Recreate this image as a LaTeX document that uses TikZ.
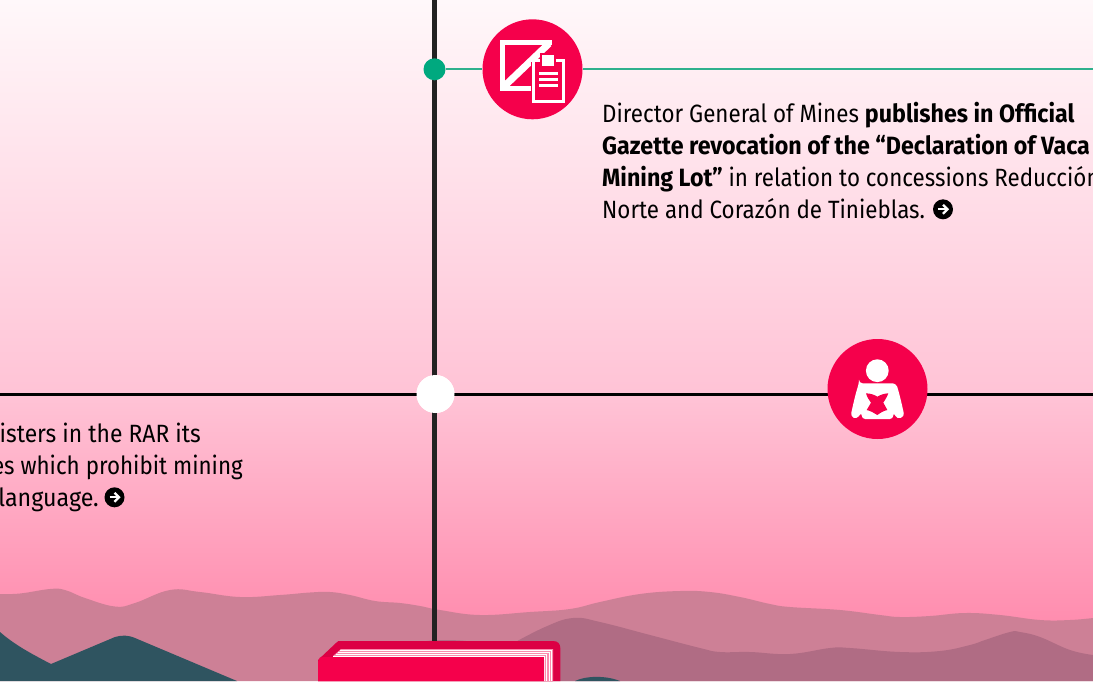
\documentclass[tikz,border=0pt]{standalone}
\usepackage{fontspec}
\setmainfont[FakeStretch=0.895]{Fira Sans}
\newfontfamily\boldtxt[FakeStretch=0.93]{Fira Sans Bold}
\newfontfamily\wideA[FakeStretch=0.915]{Fira Sans}
\newfontfamily\wideB[FakeStretch=0.93]{Fira Sans}
\definecolor{crim}{HTML}{F5004B}
\definecolor{crimd}{HTML}{DC0044}
\definecolor{grn}{HTML}{00A97F}
\definecolor{grnline}{HTML}{2FB08C}
\definecolor{hillA}{HTML}{CD8096}
\definecolor{hillB}{HTML}{B06C84}
\definecolor{hillC}{HTML}{2F5460}
\definecolor{skyA}{HTML}{FFF8FA}
\definecolor{skyB}{HTML}{FFC2D5}
\definecolor{skyC}{HTML}{FF8CAE}
\definecolor{inkline}{HTML}{222222}
\tikzset{
 iconround/.style={circle,fill=crim,minimum size=100pt,inner sep=0pt,draw=none},
 txt/.style={inner sep=0pt,font=\fontsize{25}{32}\selectfont,text=black},
 arrowdot/.pic={\fill[black] (0,0) circle (10);
  \draw[white,line width=2.3pt] (-5,0)--(3.5,0);
  \draw[white,line width=2.3pt] (0,-4.5)--(4.5,0)--(0,4.5);}
}
\begin{document}
\begin{tikzpicture}[x=1pt,y=-1pt]
\useasboundingbox (0,0) rectangle (1093,681);
\clip (0,0) rectangle (1093,681);
\shade[top color=skyA,bottom color=skyB] (0,0) rectangle (1093,400);
\shade[top color=skyB,bottom color=skyC] (0,400) rectangle (1093,625);
\fill[skyC] (0,625) rectangle (1093,681);
% hills
\fill[hillA] plot[smooth,tension=0.7] coordinates {(0,594)(20,593.5)(50,589)(65,590)(85,598)(115,606.5)(135,603)(170,590)(200,592)(240,597)(280,595)(310,592.5)(330,592)(350,595)(375,601)(400,603)(420,606)(440,610)(480,615)(530,612)(570,609)(600,602)(640,594)(680,591)(710,592)(740,597)(770,604)(790,607)(840,610)(880,615)(900,617)(930,616)(965,613)(1000,615)(1040,620)(1070,620)(1093,618)} -- (1093,681) -- (0,681) -- cycle;
\fill[hillB] plot[smooth,tension=0.7] coordinates {(510,645)(545,627)(573,618)(600,622)(650,635)(700,648)(720,652)(750,652)(790,654)(830,648)(850,648)(900,652)(940,651)(970,645)(985,640)(1010,632)(1020,632)(1040,637)(1070,650)(1093,655)} -- (1093,681) -- (510,681) -- cycle;
\fill[hillB] (415,643) .. controls (430,639) and (460,639) .. (480,643) -- cycle;
\fill[hillC] (0,632) .. controls (15,645) and (30,653) .. (51,664) -- (115,637) .. controls (122,635) and (128,635) .. (135,638) -- (237,681) -- (0,681) -- cycle;
\fill[hillC] (575,681) .. controls (585,676) and (605,675) .. (620,681) -- cycle;
% connectors
\coordinate (vtop) at (434.7,-5);
\coordinate (hleft) at (-5,394);
\coordinate (hright) at (1098,394);
\coordinate (gright) at (1098,69.3);
\node[circle,fill=white,minimum size=38pt,inner sep=0pt] (hub) at (435.5,394) {};
\coordinate (booktop) at (434.7,643);
\draw[inkline,line width=5pt] (vtop) -- (booktop);
\draw[black,line width=3pt] (hleft) -- (hright);
\node[iconround] (docicon) at (532.5,69.3) {};
\node[iconround] (readicon) at (877.5,389) {};
\node[circle,fill=white,minimum size=38pt,inner sep=0pt] (hub2) at (hub) {};
\node[circle,fill=grn,minimum size=22pt,inner sep=0pt] (gdot) at (434.5,69.3) {};
\draw[draw=grnline,line width=2pt] (gdot.east) -- (docicon.west);
\draw[draw=grnline,line width=2pt] (docicon.east) -- (gright);
% doc icon glyph
\draw[white,line width=5pt] (531,88.2) -- (502.5,88.2) -- (502.5,42.5) -- (551.5,42.5);
\draw[white,line width=7pt] (504,86.5) -- (549,43.5);
\fill[crim] (530.8,62) rectangle (567,106);
\fill[crim] (540,53) rectangle (556.3,68);
\fill[white] (532.3,59.3) rectangle (565.3,102.7);
\fill[crim] (535.3,62.3) rectangle (562.3,99.7);
\fill[crim] (540,53) rectangle (556.3,68);
\fill[white] (542.3,55) rectangle (554,66);
\fill[white] (539,71.7) rectangle (558.3,75);
\fill[white] (539,77.8) rectangle (558.3,81.2);
\fill[white] (539,83.5) rectangle (558.3,87);
% reader icon glyph
\fill[white] (877.3,370.7) circle (11.4);
\fill[white,rounded corners=3.5pt] (859,383.3) -- (896,383.3) .. controls (899,392) and (902,405) .. (904.5,416.5) -- (897,419) -- (893.3,412) -- (893.3,419) -- (861.7,419) -- (861.7,412) -- (857,419) -- (850.5,416.5) .. controls (853,405) and (856,392) .. (859,383.3) -- cycle;
\fill[crim] (866,393.3) .. controls (871,393.5) and (875,395) .. (877.3,396.7) .. controls (880,395) and (884,393.5) .. (888.3,393.3) .. controls (887,397) and (885,400) .. (883.3,402.7) .. controls (885,405) and (886,408) .. (887.3,410) .. controls (883,411) and (880,413) .. (877.3,415) .. controls (874,413) and (871,411) .. (866.7,410) .. controls (868,408) and (869.5,405) .. (871,402.7) .. controls (869,400) and (867,397) .. (866,393.3) -- cycle;
% book
\fill[crimd] (318,660) -- (336,643) .. controls (337,641) and (339,641) .. (341,641) -- (553,641) .. controls (558,641) and (560.3,644) .. (560.3,648) -- (560.3,681) -- (318,681) -- cycle;
\fill[crim] (333,657) -- (342,649) -- (553,649) -- (553,681) -- (318,681) -- (318,662) -- (323,657) -- cycle;
\fill[white!55!crim] (333,656) -- (341,649) -- (553,649) -- (553,681) -- (544,681) -- (544,656) -- cycle;
\draw[white,line width=.8pt] (333,656.8) -- (544,656.8) -- (544,681);
\draw[white,line width=.8pt] (336,654) -- (546.5,654) -- (546.5,681);
\draw[white,line width=.8pt] (338,652) -- (549,652) -- (549,681);
\draw[white,line width=.8pt] (340,650) -- (551.5,650) -- (551.5,681);
\fill[crim] (320,657.4) -- (541,657.4) -- (541,660) -- (544,660) -- (544,681) -- (318,681) -- (318,662) -- cycle;
% text
\node[txt,anchor=base west] (t1) at (602,122) {Director General of Mines {\boldtxt publishes in Official}};
\node[txt,anchor=base west] (t2) at (602,154) {\boldtxt Gazette revocation of the “Declaration of Vaca};
\node[txt,anchor=base west] (t3) at (602,186) {{\boldtxt Mining Lot”} in relation to concessions Reducción};
\node[txt,anchor=base west] (t4) at (602,218) {Norte and Corazón de Tinieblas.};
\pic at (943,209.3) {arrowdot};
\node[txt,anchor=base east] (l1) at (201,442) {\wideA isters in the RAR its};
\node[txt,anchor=base east] (l2) at (243,474) {es which prohibit mining};
\node[txt,anchor=base east] (l3) at (99,506) {\wideB language.};
\pic at (114.5,497.3) {arrowdot};
\end{tikzpicture}
\end{document}
